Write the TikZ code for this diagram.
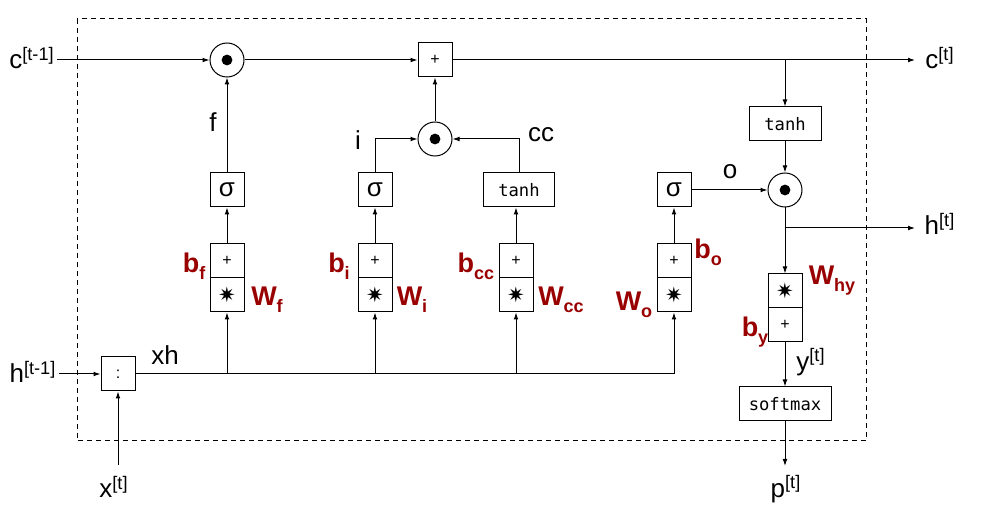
\documentclass[tikz,border=0pt]{standalone}
\usepackage{fontspec}
\setmainfont{Liberation Sans}
\setmonofont{DejaVu Sans Mono}
\newfontfamily\symfont{DejaVu Sans}
\usetikzlibrary{arrows.meta}
\definecolor{wred}{RGB}{153,0,0}
\tikzset{
  op/.style={draw,minimum size=17pt,inner sep=0pt,font=\fontsize{8}{9}\selectfont},
  fn/.style={draw,minimum height=17pt,inner sep=0pt,font=\ttfamily\fontsize{8.6}{9}\selectfont},
  had/.style={draw,circle,minimum size=17pt,inner sep=0pt,
    path picture={\fill (path picture bounding box.center) circle (2.7pt);}},
  lbl/.style={inner sep=1pt,font=\fontsize{13}{15}\selectfont},
  par/.style={inner sep=1pt,text=wred,font=\fontsize{13.5}{15}\selectfont\bfseries},
  flow/.style={-{Latex[length=3.5pt,width=2.4pt]}},
}
\newcommand{\tsup}[1]{\textsuperscript{[#1]}}
\newcommand{\wsub}[2]{#1\raisebox{-3.5pt}{\fontsize{9}{9}\selectfont #2}}
\newcommand{\mstar}{{\symfont\fontsize{10.5}{10}\selectfont ✷}}
\begin{document}
\begin{tikzpicture}[x=0.5pt,y=-0.5pt,line width=0.5pt]
    \useasboundingbox (0,0) rectangle (982,524);
    \draw[dash pattern=on 2.5pt off 2pt] (77,19) rectangle (866,441);
    % cell state
    \node[had] (mulF) at (227,60) {};
    \node[op] (addC) at (435,60) {+};
    \node[had] (mulI) at (435,139) {};
    \node[fn,minimum width=36pt] (tanhC) at (785,124) {tanh};
    \node[had] (mulO) at (785,190) {};
    % gates
    \node[op,font=\fontsize{13}{15}\selectfont] (sigF) at (227,190) {σ};
    \node[op,font=\fontsize{13}{15}\selectfont] (sigI) at (375,190) {σ};
    \node[fn,minimum width=35.5pt] (tanhCC) at (519,190) {tanh};
    \node[op,font=\fontsize{13}{15}\selectfont] (sigO) at (674,190) {σ};
    \node[op] (addF) at (227,260.5) {+};
    \node[op] (matF) at (227,295) {\mstar};
    \node[op] (addI) at (375,260.5) {+};
    \node[op] (matI) at (375,295) {\mstar};
    \node[op] (addCC) at (516,260.5) {+};
    \node[op] (matCC) at (516,295) {\mstar};
    \node[op] (addO) at (674,260.5) {+};
    \node[op] (matO) at (674,295) {\mstar};
    % output
    \node[op] (matY) at (785,291) {\mstar};
    \node[op] (addY) at (785,325) {+};
    \node[fn,minimum width=46pt] (soft) at (785,404) {softmax};
    \node[op] (cat) at (118,374) {:};
    % outer labels
    \node[lbl] (cprev) at (32,58) {c\tsup{t-1}};
    \node[lbl] (hprev) at (33,372) {h\tsup{t-1}};
    \node[lbl] (xin) at (114,487) {x\tsup{t}};
    \node[lbl] (cnext) at (940,58) {c\tsup{t}};
    \node[lbl] (hnext) at (940,224) {h\tsup{t}};
    \node[lbl] (pout) at (786,489) {p\tsup{t}};
    \node[lbl] (lf) at (213,122) {f};
    \node[lbl] (li) at (358,140) {i};
    \node[lbl] (lcc) at (541,135) {cc};
    \node[lbl] (lo) at (730,172) {o};
    \node[lbl] (lxh) at (165,355) {xh};
    \node[lbl] (ly) at (811,362) {y\tsup{t}};
    % weights and biases
    \node[par] at (194,266) {\wsub{b}{f}};
    \node[par] at (267,300) {\wsub{W}{f}};
    \node[par] at (339,266) {\wsub{b}{i}};
    \node[par] at (412,300) {\wsub{W}{i}};
    \node[par] at (476,266) {\wsub{b}{cc}};
    \node[par] at (561,300) {\wsub{W}{cc}};
    \node[par] at (634,305) {\wsub{W}{o}};
    \node[par] at (708,252) {\wsub{b}{o}};
    \node[par] at (832,281) {\wsub{W}{hy}};
    \node[par] at (755,332) {\wsub{b}{y}};
    % junctions and free ends
    \coordinate (cBr) at (785,60);
    \coordinate (cEnd) at (915,60);
    \coordinate (hBr) at (785,228);
    \coordinate (hEnd) at (915,228);
    \coordinate (xhEnd) at (674,374);
    \coordinate (xTop) at (118,465);
    \coordinate (pTop) at (785,466);
    % connectors
    \draw[flow] (cprev.east |- mulF) -- (mulF);
    \draw[flow] (mulF) -- (addC);
    \draw[flow] (addC) -- (cEnd);
    \draw[flow] (cBr) -- (tanhC);
    \draw[flow] (tanhC) -- (mulO);
    \draw[flow] (sigO) -- (mulO);
    \draw (mulO) -- (hBr);
    \draw[flow] (hBr) -- (hEnd);
    \draw[flow] (hBr) -- (matY);
    \draw[flow] (addY) -- (soft);
    \draw[flow] (soft) -- (pTop);
    \draw[flow] (sigF) -- (mulF);
    \draw[flow] (mulI) -- (addC);
    \draw[flow] (sigI.north) |- (mulI);
    \draw[flow] (tanhCC.north) |- (mulI);
    \draw[flow] (addF) -- (sigF);
    \draw[flow] (addI) -- (sigI);
    \draw[flow] (addCC) -- (addCC |- tanhCC.south);
    \draw[flow] (addO) -- (sigO);
    \draw[flow] (hprev.east |- cat) -- (cat);
    \draw[flow] (xTop) -- (cat);
    \draw (cat) -- (xhEnd);
    \draw[flow] (matF |- cat) -- (matF);
    \draw[flow] (matI |- cat) -- (matI);
    \draw[flow] (matCC |- cat) -- (matCC);
    \draw[flow] (xhEnd) -- (matO);
\end{tikzpicture}
\end{document}
